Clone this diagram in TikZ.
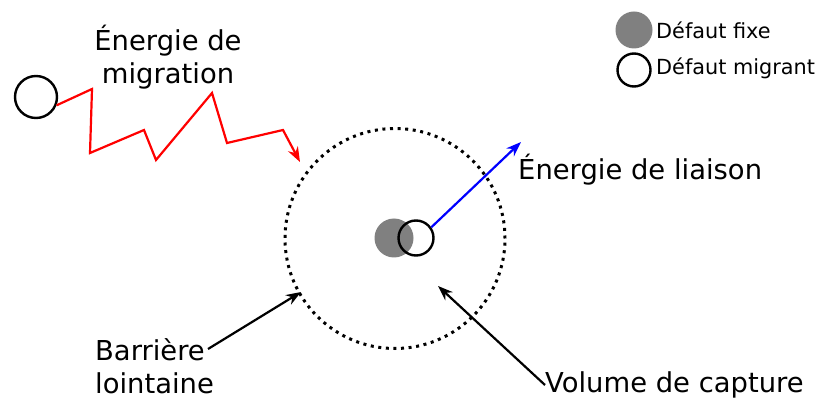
\documentclass[tikz,border=0pt]{standalone}
\usepackage{fontspec}
\setmainfont{DejaVu Sans}
\usetikzlibrary{arrows.meta}
\begin{document}
\begin{tikzpicture}[x=1pt,y=-1pt,
  big/.style={font=\fontsize{27.4}{33}\selectfont, inner sep=0pt},
  small/.style={font=\fontsize{20.8}{24}\selectfont, inner sep=0pt, anchor=west},
  defmig/.style={circle, draw=black, line width=2.4pt, inner sep=0pt},
  deffix/.style={circle, fill=black!50, inner sep=0pt},
  arr/.style={line width=2.2pt, -{Stealth[length=15pt,width=11pt]}},
]
\useasboundingbox (0,0) rectangle (824,403);
% capture volume
\node[circle, draw=black, line width=3pt, dash pattern=on 3pt off 4.6pt, minimum size=220pt, inner sep=0pt] (cap) at (395,238.5) {};
% defects in the centre
\node[deffix, minimum size=39pt] (fix) at (394,238) {};
\node[defmig, minimum size=35pt] (trap) at (416,238) {};
% migrating defect
\node[defmig, minimum size=42pt] (mig) at (36,97) {};
% zigzag
\coordinate (z1) at (92,89);
\coordinate (z2) at (90,153);
\coordinate (z3) at (144,130);
\coordinate (z4) at (156,160);
\coordinate (z5) at (212,93);
\coordinate (z6) at (227,143);
\coordinate (z7) at (283,130);
\coordinate (ztip) at (300,162);
\draw[arr, red, line width=2.2pt, line join=miter] (mig.-22) -- (z1) -- (z2) -- (z3) -- (z4) -- (z5) -- (z6) -- (z7) -- (ztip);
% labels
\node[big, align=center] (lmig) at (168,57) {Énergie de\\migration};
\node[big, anchor=west] (lliai) at (518,170) {Énergie de liaison};
\coordinate (btip) at (521,142);
\draw[arr, blue] (trap.35) -- (btip);
\node[big, align=left, anchor=west] (lbar) at (95,366) {Barrière\\lointaine};
\coordinate (bartip) at (301,292);
\draw[arr, black] (208,349) coordinate (barstart) -- (bartip);
\node[big, anchor=west] (lvol) at (545,385) {Volume de capture};
\coordinate (voltip) at (438,286);
\draw[arr, black] (lvol.west) -- (voltip);
% legend
\node[deffix, minimum size=37pt] (legfix) at (634,30) {};
\node[small] (tfix) at (656,30) {Défaut fixe};
\node[defmig, minimum size=33pt] (legmig) at (634,70) {};
\node[small] (tmig) at (656,68) {Défaut migrant};
\end{tikzpicture}
\end{document}
